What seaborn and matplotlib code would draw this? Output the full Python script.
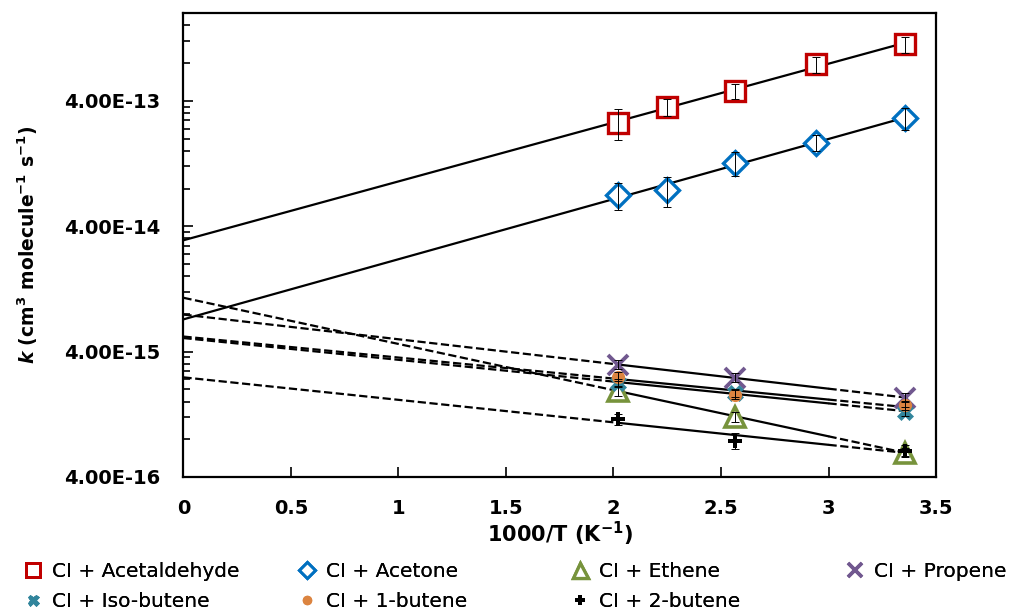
import numpy as np
import matplotlib
matplotlib.use('Agg')
import matplotlib.pyplot as plt
from matplotlib.lines import Line2D
from matplotlib.ticker import FixedLocator, FuncFormatter
import seaborn as sns

# temperatures (K) and 1000/T
temps_all = np.array([495, 445, 390, 340, 298])
temps_low = np.array([495, 390, 298])
x_all = 1000 / temps_all
x_low = 1000 / temps_low

# rate coefficients, cm3 molecule-1 s-1
k_acetaldehyde = [2.69e-13, 3.60e-13, 4.81e-13, 7.83e-13, 1.13e-12]
k_acetone = [7.13e-14, 7.81e-14, 1.29e-13, 1.86e-13, 2.94e-13]
k_ethene = [1.95e-15, 1.21e-15, 6.27e-16]
k_propene = [3.15e-15, 2.48e-15, 1.72e-15]
k_isobutene = [2.26e-15, 1.88e-15, 1.33e-15]
k_1butene = [2.53e-15, 1.82e-15, 1.49e-15]
k_2butene = [1.15e-15, 7.81e-16, 6.50e-16]

# relative errors
err_acetaldehyde = [0.27, 0.16, 0.14, 0.14, 0.14]
err_acetone = [0.25, 0.27, 0.22, 0.14, 0.20]
err_ethene = [0.10, 0.10, 0.08]
err_propene = [0.08, 0.08, 0.08]
err_isobutene = [0.08, 0.08, 0.08]
err_1butene = [0.08, 0.08, 0.08]
err_2butene = [0.10, 0.14, 0.10]

labels = ['CI + Acetaldehyde', 'CI + Acetone', 'CI + Ethene', 'CI + Propene',
          'CI + Iso-butene', 'CI + 1-butene', 'CI + 2-butene']

sns.set_style('ticks')
plt.rcParams['font.family'] = ['DejaVu Sans']
plt.rcParams['mathtext.fontset'] = 'custom'
plt.rcParams['mathtext.rm'] = 'DejaVu Sans:bold'
plt.rcParams['mathtext.it'] = 'DejaVu Sans:bold:italic'
plt.rcParams['mathtext.bf'] = 'DejaVu Sans:bold'
for key in ['text.color', 'axes.labelcolor', 'xtick.color', 'ytick.color', 'axes.edgecolor']:
    plt.rcParams[key] = 'black'

fig = plt.figure(figsize=(10.13, 6.12), dpi=100)
ax = fig.add_axes([0.1811, 0.2206, 0.7429, 0.7577])

series = [
    (x_all, k_acetaldehyde, err_acetaldehyde, dict(marker='s', ms=14, mfc='white', mec='#C00000', mew=2.4), False),
    (x_all, k_acetone, err_acetone, dict(marker='D', ms=12, mfc='white', mec='#0070C0', mew=2.4), False),
    (x_low, k_ethene, err_ethene, dict(marker='^', ms=15, mfc='white', mec='#77933C', mew=2.6), True),
    (x_low, k_propene, err_propene, dict(marker='x', ms=14, mec='#71588F', mew=2.8), True),
    (x_low, k_isobutene, err_isobutene, dict(marker='X', ms=11, mfc='#31859C', mec='#31859C', mew=0.5), True),
    (x_low, k_1butene, err_1butene, dict(marker='o', ms=9.5, mfc='#DC8440', mec='#DC8440', mew=0), True),
    (x_low, k_2butene, err_2butene, dict(marker='P', ms=9.5, mfc='black', mec='black', mew=0), True),
]

# fitted Arrhenius lines
for x, k, err, style, split in series:
    slope, icpt = np.polyfit(x, np.log10(k), 1)
    if split:
        segs = [(np.array([0, x.min()]), '--'), (np.array([x.min(), 3.0]), '-'),
                (np.array([3.0, x.max()]), '--')]
    else:
        segs = [(np.array([0, x.max()]), '-')]
    for xs, ls in segs:
        sns.lineplot(x=xs, y=10 ** (icpt + slope * xs), ax=ax, color='black',
                     lw=1.6, linestyle=ls, dashes=False if ls == '-' else (5, 3),
                     zorder=2)

# markers with error bars
handles = []
for (x, k, err, style, split), lab in zip(series, labels):
    k = np.array(k)
    ax.plot(x, k, ls='none', zorder=3, **style)
    ax.errorbar(x, k, yerr=k * np.array(err), fmt='none', ecolor='black',
                elinewidth=0.7, capsize=3, capthick=0.7, zorder=4)
    hs = dict(style)
    hs['ms'] = style['ms'] * 0.72
    hs['mew'] = style['mew'] * 0.9
    handles.append(Line2D([], [], ls='none', **hs))

ax.set_yscale('log')
ax.set_xlim(0, 3.5)
ax.set_ylim(4e-16, 2e-12)
ax.set_xticks(np.arange(0, 3.51, 0.5))
ax.xaxis.set_major_formatter(FuncFormatter(lambda v, p: f'{v:g}'))
ax.yaxis.set_major_locator(FixedLocator([4e-16, 4e-15, 4e-14, 4e-13]))
ax.yaxis.set_minor_locator(FixedLocator(
    [4e-16 * m * 10 ** n for n in range(4) for m in range(2, 10) if 4e-16 * m * 10 ** n < 2e-12]))
ax.yaxis.set_major_formatter(FuncFormatter(lambda v, p: f'{v:.2E}'))
ax.yaxis.set_minor_formatter(FuncFormatter(lambda v, p: ''))

ax.tick_params(axis='both', which='both', direction='in', width=1.2, labelsize=14)
ax.tick_params(axis='both', which='major', length=7)
ax.tick_params(axis='x', which='major', pad=16)
ax.tick_params(axis='y', which='major', pad=17)
ax.tick_params(axis='y', which='minor', length=5)
for lab in ax.get_xticklabels() + ax.get_yticklabels():
    lab.set_fontweight('bold')
for sp in ax.spines.values():
    sp.set_visible(True)
    sp.set_linewidth(1.6)
    sp.set_color('black')

ax.set_xlabel(r'1000/T (K$^{-1}$)', fontsize=15, fontweight='bold')
ax.set_ylabel(r'$k$ (cm$^{3}$ molecule$^{-1}$ s$^{-1}$)', fontsize=13.5, fontweight='bold')
ax.xaxis.set_label_coords(0.5, -0.093)
ax.yaxis.set_label_coords(-0.19, 0.5)

# legend, one block per column
cols = [[0, 4], [1, 5], [2, 6], [3]]
col_x = [0.0224, 0.2929, 0.5624, 0.8339]
for idx, cx in zip(cols, col_x):
    leg = fig.legend([handles[i] for i in idx], [labels[i] for i in idx],
                     loc='upper left', bbox_to_anchor=(cx, 0.081), frameon=False,
                     fontsize=14.5, handlelength=1.0, handletextpad=0.45,
                     labelspacing=0.52, borderpad=0, borderaxespad=0)
    fig.add_artist(leg)

fig.savefig('out.png', dpi=100, facecolor='white')
